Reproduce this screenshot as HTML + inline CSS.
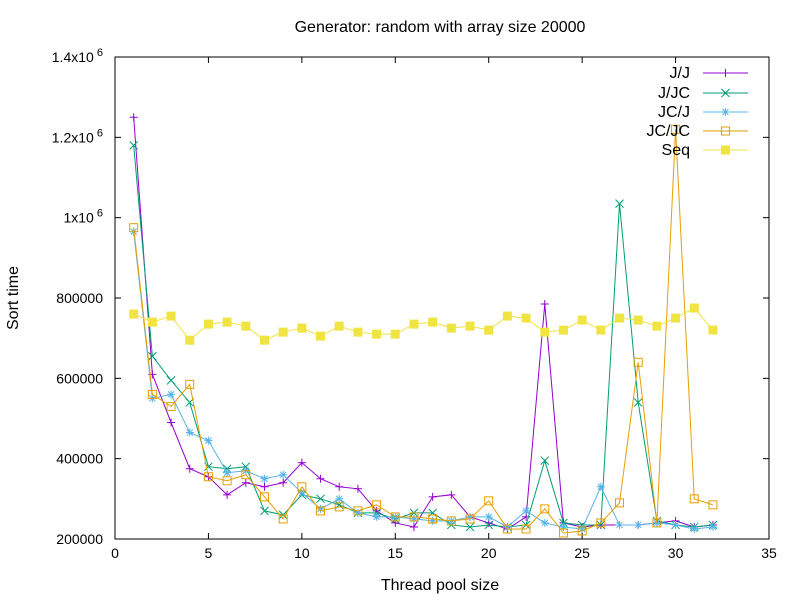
<!DOCTYPE html>
<html><head><meta charset="utf-8"><style>
body{margin:0;background:#fff}
svg{font-family:"Liberation Sans",sans-serif;font-size:14px}
.big{font-size:16px}
</style></head><body>
<svg id="c" width="800" height="600" xmlns="http://www.w3.org/2000/svg"></svg>
<script>
const xTicks=[0,5,10,15,20,25,30,35];
const yTicks=[200000,400000,600000,800000,1000000,1200000,1400000];
const yTickLabels=["200000","400000","600000","800000","1x10^6","1.2x10^6","1.4x10^6"];
const threads=[1,2,3,4,5,6,7,8,9,10,11,12,13,14,15,16,17,18,19,20,21,22,23,24,25,26,27,28,29,30,31,32];
const seriesNames=["J/J","J/JC","JC/J","JC/JC","Seq"];
const jj=[1250,610,490,375,355,310,340,330,340,390,350,330,325,270,240,230,305,310,255,240,225,255,785,240,230,235,235,235,240,245,230,235];
const jjc=[1180,655,595,540,380,375,380,270,260,310,300,285,265,265,250,265,265,235,230,235,230,235,395,240,235,235,1035,540,245,235,230,235];
const jcj=[965,550,560,465,445,365,370,350,360,315,275,300,265,255,255,250,245,245,255,255,230,270,240,230,225,330,235,235,240,235,225,230];
const jcjc=[975,560,530,585,355,345,360,305,250,330,270,280,270,285,255,255,250,245,250,295,225,225,275,215,220,240,290,640,240,1220,300,285];
const seq=[760,740,755,695,735,740,730,695,715,725,705,730,715,710,710,735,740,725,730,720,755,750,715,720,745,720,750,745,730,750,775,720];
const allSeries=[jj,jjc,jcj,jcjc,seq];
const colors=["#9400d3","#009e73","#56b4e9","#e69f00","#f0e442"];
const L=115,R=769,T=57,B=539;
const X=v=>L+(v-0)/35*(R-L);
const Y=v=>B-(v-200000)/1200000*(B-T);
const svg=document.getElementById('c');
const NS="http://www.w3.org/2000/svg";
function mk(t,a,p){const e=document.createElementNS(NS,t);for(const k in a)e.setAttribute(k,a[k]);(p||svg).appendChild(e);return e;}
let e;
e=mk('text',{x:440,y:32,'text-anchor':'middle',class:'big'});e.textContent="Generator: random with array size 20000";


e=mk('rect',{x:L,y:T,width:R-L,height:B-T,fill:'none',stroke:'#000','stroke-width':1});


xTicks.forEach(v=>{
 mk('line',{x1:X(v),x2:X(v),y1:B,y2:B-6,stroke:'#000'});
 mk('line',{x1:X(v),x2:X(v),y1:T,y2:T+6,stroke:'#000'});
 const t=mk('text',{x:X(v),y:B+19,'text-anchor':'middle'});t.textContent=v;
 
 
});
yTicks.forEach((v,i)=>{
 mk('line',{x1:L,x2:L+6,y1:Y(v),y2:Y(v),stroke:'#000'});
 mk('line',{x1:R,x2:R-6,y1:Y(v),y2:Y(v),stroke:'#000'});
 const lab=yTickLabels[i];
 const t=mk('text',{x:103,y:Y(v)+5,'text-anchor':'end'});
 if(lab.includes('^')){const p=lab.split('^');t.textContent=p[0];const s=mk('tspan',{dy:-6,'font-size':11},t);s.textContent=' '+p[1];}
 else t.textContent=lab;
 
 
});
e=mk('text',{x:440,y:590,'text-anchor':'middle',class:'big'});e.textContent="Thread pool size";


e=mk('text',{x:18,y:298,'text-anchor':'middle',class:'big',transform:'rotate(-90 18 298)'});e.textContent="Sort time";


function marker(k,x,y,c,g){
 if(k==0){mk('path',{d:`M${x-4},${y}h8M${x},${y-4}v8`,stroke:c,fill:'none'},g);}
 else if(k==1){mk('path',{d:`M${x-4},${y-4}l8,8M${x-4},${y+4}l8,-8`,stroke:c,fill:'none'},g);}
 else if(k==2){mk('path',{d:`M${x-4},${y}h8M${x},${y-4}v8M${x-3},${y-3}l6,6M${x-3},${y+3}l6,-6`,stroke:c,fill:'none'},g);}
 else if(k==3){mk('rect',{x:x-4,y:y-4,width:8,height:8,stroke:c,fill:'none'},g);}
 else {mk('rect',{x:x-4.5,y:y-4.5,width:9,height:9,fill:c},g);}
}
const legY=[73,93,112,131,150];
allSeries.forEach((s,k)=>{
 const g=mk('g',{});
 
 
 const pts=s.map((v,i)=>X(threads[i])+','+Y(v*1000)).join(' ');
 mk('polyline',{points:pts,fill:'none',stroke:colors[k],'stroke-width':1},g);
 s.forEach((v,i)=>marker(k,X(threads[i]),Y(v*1000),colors[k],g));
 const lg=mk('g',{});
 
 
 const t=mk('text',{x:690,y:legY[k]+5,'text-anchor':'end',class:'big'},lg);t.textContent=seriesNames[k];
 mk('line',{x1:703,x2:748,y1:legY[k],y2:legY[k],stroke:colors[k]},lg);
 marker(k,725.5,legY[k],colors[k],lg);
});
</script>
</body></html>
